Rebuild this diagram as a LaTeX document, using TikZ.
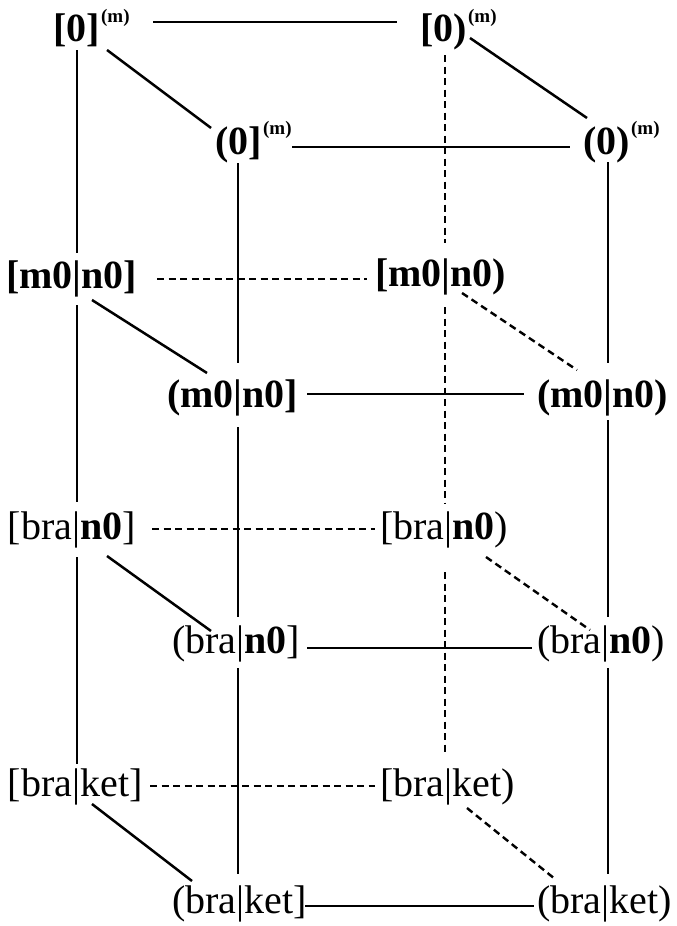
\documentclass[tikz,border=0pt]{standalone}
\usepackage{fontspec}
\setmainfont{Liberation Serif}
\usetikzlibrary{calc}
\newcommand{\supm}[1]{\kern1.5pt\raisebox{#1pt}{\fontsize{19}{20}\selectfont\bfseries (m)}}
\begin{document}
\begin{tikzpicture}[x=1pt,y=-1pt,
  lab/.style={inner sep=0pt, outer sep=0pt, anchor=base west},
  rowa/.style={lab, font=\fontsize{40}{48}\selectfont\bfseries},
  rowb/.style={lab, font=\fontsize{40}{48}\selectfont\bfseries},
  rowc/.style={lab, font=\fontsize{40}{48}\selectfont},
  rowd/.style={lab, font=\fontsize{40}{48}\selectfont},
  solidline/.style={line width=2.5pt},
  dashline/.style={line width=2.4pt, dash pattern=on 7pt off 4.5pt}]
\useasboundingbox[fill=white] (0,0) rectangle (677,926);
% row 1
\node[rowa] (A1) at (53,41) {[0]\supm{19}};
\node[rowa] (B1) at (420,41) {[0)\supm{19}};
\node[rowa] (C1) at (215,154) {(0]\supm{20}};
\node[rowa] (D1) at (583,154) {(0)\supm{20}};
% row 2
\node[rowb] (A2) at (6,288) {[m0|n0]};
\node[rowb] (B2) at (375,286) {[m0|n0)};
\node[rowb] (C2) at (167,407) {(m0|n0]};
\node[rowb] (D2) at (537,407) {(m0|n0)};
% row 3
\node[rowc] (A3) at (8,539) {[bra|\textbf{n0}]};
\node[rowc] (B3) at (380,539) {[bra|\textbf{n0})};
\node[rowc] (C3) at (172,653) {(bra|\textbf{n0}]};
\node[rowc] (D3) at (537,653) {(bra|\textbf{n0})};
% row 4
\node[rowd] (A4) at (8,796) {[bra|ket]};
\node[rowd] (B4) at (380,796) {[bra|ket)};
\node[rowd] (C4) at (172,913) {(bra|ket]};
\node[rowd] (D4) at (537,913) {(bra|ket)};

% row 1 connectors
\draw[solidline] ($(A1.base west)+(100,-19)$) -- ($(B1.base west)+(-23,-19)$);
\draw[solidline] ($(C1.base west)+(77,-7)$) -- ($(D1.base west)+(-13,-7)$);
\draw[solidline] ($(A1.base west)+(54,9)$) -- ($(C1.base west)+(-4,-26)$);
\draw[solidline] ($(B1.base west)+(50,-3)$) -- ($(D1.base west)+(4,-36)$);
\draw[solidline] ($(A1.base west)+(24,9)$) -- ($(A2.base west)+(71,-35)$);
\draw[dashline] ($(B1.base west)+(25,14)$) -- ($(B2.base west)+(70,-43)$);
\draw[solidline] ($(C1.base west)+(23,9)$) -- ($(C2.base west)+(71,-44)$);
\draw[solidline] ($(D1.base west)+(25,8)$) -- ($(D2.base west)+(71,-44)$);
% row 2 connectors
\draw[dashline] ($(A2.base west)+(151,-9)$) -- ($(B2.base west)+(-8,-7)$);
\draw[solidline] ($(C2.base west)+(140,-13)$) -- ($(D2.base west)+(-13,-13)$);
\draw[solidline] ($(A2.base west)+(86,12)$) -- ($(C2.base west)+(40,-34)$);
\draw[dashline] ($(B2.base west)+(87,7)$) -- ($(D2.base west)+(40,-37)$);
\draw[solidline] ($(A2.base west)+(71,17)$) -- ($(A3.base west)+(69,-37)$);
\draw[dashline] ($(B2.base west)+(70,21)$) -- ($(B3.base west)+(65,-36)$);
\draw[solidline] ($(C2.base west)+(71,20)$) -- ($(C3.base west)+(66,-36)$);
\draw[solidline] ($(D2.base west)+(71,13)$) -- ($(D3.base west)+(71,-36)$);
% row 3 connectors
\draw[dashline] ($(A3.base west)+(144,-10)$) -- ($(B3.base west)+(-5,-10)$);
\draw[solidline] ($(C3.base west)+(135,-5)$) -- ($(D3.base west)+(-5,-5)$);
\draw[solidline] ($(A3.base west)+(99,17)$) -- ($(C3.base west)+(39,-22)$);
\draw[dashline] ($(B3.base west)+(106,18)$) -- ($(D3.base west)+(53,-23)$);
\draw[solidline] ($(A3.base west)+(69,18)$) -- ($(A4.base west)+(69,-32)$);
\draw[dashline] ($(B3.base west)+(65,33)$) -- ($(B4.base west)+(65,-42)$);
\draw[solidline] ($(C3.base west)+(66,15)$) -- ($(C4.base west)+(66,-39)$);
\draw[solidline] ($(D3.base west)+(71,15)$) -- ($(D4.base west)+(71,-39)$);
% row 4 connectors
\draw[dashline] ($(A4.base west)+(142,-10)$) -- ($(B4.base west)+(-5,-10)$);
\draw[solidline] ($(C4.base west)+(133,-7)$) -- ($(D4.base west)+(-3,-7)$);
\draw[solidline] ($(A4.base west)+(84,8)$) -- ($(C4.base west)+(20,-32)$);
\draw[dashline] ($(B4.base west)+(87,12)$) -- ($(D4.base west)+(18,-34)$);
\end{tikzpicture}
\end{document}
